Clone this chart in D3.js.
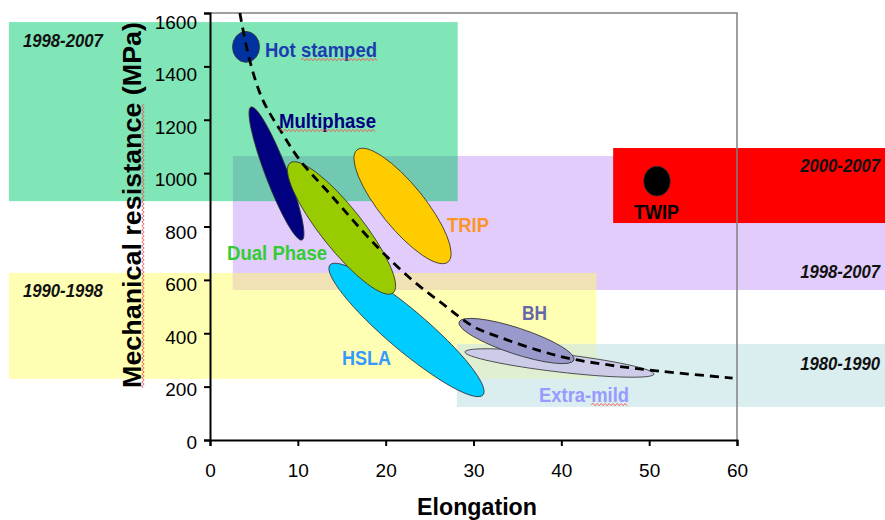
<!DOCTYPE html>
<html><head><meta charset="utf-8">
<script src="https://cdn.jsdelivr.net/npm/d3@7"></script>
<style>
html,body{margin:0;padding:0;background:#fff;}
svg{display:block;font-family:"Liberation Sans",Arial,Helvetica,sans-serif;}
</style></head><body>
<svg id="chart" width="885" height="520"></svg>
<script>
// ================= DATA =================
const xTicks = [0, 10, 20, 30, 40, 50, 60];
const yTicks = [0, 200, 400, 600, 800, 1000, 1200, 1400, 1600];

// period bands (elongation %, MPa)
const bandNames  = ["green", "yellow", "purple", "blue", "red"];
const bandLabels = ["1998-2007", "1990-1998", "1998-2007", "1980-1990", "2000-2007"];
const bandX0 = [-22.9, -22.9, 2.6, 28.1, 45.9];
const bandX1 = [28.2, 44.0, 77, 77, 77];
const bandY0 = [895, 229, 562, 124, 813];
const bandY1 = [1566, 626, 1064, 360, 1094];
// band label anchors (elongation, MPa)
const bandLabelX = [-21.3, -21.3, 76.3, 76.3, 76.3];
const bandLabelY = [1473, 536, 607, 262, 1004];

// steel families: major-axis end points (elongation %, MPa)
const steels  = ["Extra-mild", "BH", "HSLA", "Multiphase", "Dual Phase", "TRIP", "Hot stamped", "TWIP"];
const steelX1 = [29.03, 28.35, 13.66, 4.67, 9.11, 16.74, 4.1, 50.89];
const steelY1 = [330, 442, 656, 1248, 1038, 1087, 1531, 1026];
const steelX2 = [50.55, 41.44, 31.08, 10.47, 20.84, 27.1, 4.1, 50.89];
const steelY2 = [247, 300, 169, 749, 551, 667, 1415, 914];
// steel label anchors (elongation, MPa)
const steelLabelX = [37.46, 35.52, 15.03, 7.86, 1.94, 26.98, 6.26, 48.27];
const steelLabelY = [142, 450, 281, 1169, 674, 779, 1435, 828];

// trend curve (elongation %, MPa)
const trendX = [3.4, 4.5, 6, 8.2, 10.2, 13.7, 19, 23, 26.5, 30, 33, 37.5, 41, 45, 50, 59.5];
const trendY = [1600, 1425, 1275, 1150, 1050, 920, 725, 600, 510, 425, 385, 335, 305, 283, 262, 232];

// ================= STYLE =================
const bandColor = {green: "#80E5B7", yellow: "#FFFFB3", purple: "#E2CCFB", blue: "#DAEEF0", red: "#FF0000"};
const overlapColor = {"green|purple": "#72C9B2", "yellow|purple": "#F0E2B4", "yellow|blue": "#E0EFD2"};
const steelFill = {"Extra-mild": "#CCCCE8", "BH": "#9999CC", "HSLA": "#00CCFF", "Multiphase": "#000080",
  "Dual Phase": "#99CC00", "TRIP": "#FFCC00", "Hot stamped": "#0033A0", "TWIP": "#000000"};
const steelText = {"Extra-mild": "#9999FF", "BH": "#6666AA", "HSLA": "#3399FF", "Multiphase": "#000080",
  "Dual Phase": "#33CC33", "TRIP": "#FA9628", "Hot stamped": "#1C3CB0", "TWIP": "#000000"};
const steelMinor = {"Extra-mild": 9, "BH": 13, "HSLA": 20, "Multiphase": 11, "Dual Phase": 21, "TRIP": 22, "Hot stamped": 13.5, "TWIP": 13.3};
const steelLabelW = {"Extra-mild": 90, "BH": 25, "HSLA": 49, "Multiphase": 97, "Dual Phase": 100, "TRIP": 42, "Hot stamped": 112, "TWIP": 45};
const squiggleChars = {"Hot stamped": [4, 10], "Multiphase": [0, 9], "Extra-mild": [6, 9]};

// ================= CHART =================
const svg = d3.select("#chart");
const x = d3.scaleLinear().domain([0, 60]).range([210, 737]);
const y = d3.scaleLinear().domain([0, 1600]).range([440, 13]);

const bands = bandNames.map((n, i) => ({name: n, label: bandLabels[i], x0: bandX0[i], x1: bandX1[i], y0: bandY0[i], y1: bandY1[i], lx: bandLabelX[i], ly: bandLabelY[i]}));

const gBands = svg.append("g");
function drawRect(b, fill) {
  gBands.append("rect")
    .attr("x", x(b.x0)).attr("y", y(b.y1))
    .attr("width", x(b.x1) - x(b.x0)).attr("height", y(b.y0) - y(b.y1))
    .attr("fill", fill);
}
bands.filter(b => b.name !== "red").forEach(b => drawRect(b, bandColor[b.name]));
// overlaps
Object.keys(overlapColor).forEach(k => {
  const [a, c] = k.split("|").map(n => bands.find(b => b.name === n));
  const o = {x0: Math.max(a.x0, c.x0), x1: Math.min(a.x1, c.x1), y0: Math.max(a.y0, c.y0), y1: Math.min(a.y1, c.y1)};
  if (o.x1 > o.x0 && o.y1 > o.y0) drawRect(o, overlapColor[k]);
});
bands.filter(b => b.name === "red").forEach(b => drawRect(b, bandColor[b.name]));

// band labels
svg.append("g").selectAll("text").data(bands).join("text")
  .attr("x", d => x(d.lx)).attr("y", d => y(d.ly))
  .attr("text-anchor", d => d.lx < 0 ? "start" : "end")
  .attr("font-size", 18).attr("font-weight", "bold").attr("font-style", "italic")
  .attr("textLength", 80).attr("lengthAdjust", "spacingAndGlyphs")
  .attr("fill", "#111")
  .text(d => d.label);

// plot frame (top & right)
svg.append("path")
  .attr("d", `M${x(0)},${y(1600)}H${x(60)}V${y(0)}`)
  .attr("fill", "none").attr("stroke", "#808080").attr("stroke-width", 1.5);

// ellipses
const steelData = steels.map((s, i) => {
  const p1 = [x(steelX1[i]), y(steelY1[i])], p2 = [x(steelX2[i]), y(steelY2[i])];
  return {name: s, cx: (p1[0] + p2[0]) / 2, cy: (p1[1] + p2[1]) / 2,
    a: Math.hypot(p2[0] - p1[0], p2[1] - p1[1]) / 2,
    ang: Math.atan2(p2[1] - p1[1], p2[0] - p1[0]) * 180 / Math.PI,
    lx: steelLabelX[i], ly: steelLabelY[i]};
});
svg.append("g").selectAll("ellipse").data(steelData).join("ellipse")
  .attr("transform", d => `translate(${d.cx},${d.cy}) rotate(${d.ang})`)
  .attr("rx", d => d.a).attr("ry", d => steelMinor[d.name])
  .attr("fill", d => steelFill[d.name])
  .attr("stroke", "#333").attr("stroke-width", 0.8);

// trend curve
const line = d3.line().x(d => x(d[0])).y(d => y(d[1])).curve(d3.curveCatmullRom);
svg.append("path")
  .datum(trendX.map((v, i) => [v, trendY[i]]))
  .attr("d", line)
  .attr("fill", "none").attr("stroke", "#000").attr("stroke-width", 2.8)
  .attr("stroke-dasharray", "9,6");

// squiggle helper (spell-check underline seen in the source image)
function squiggle(g, x0, x1, yb) {
  let d = `M${x0},${yb}`;
  let up = true;
  for (let xx = x0 + 2; xx <= x1; xx += 2) { d += `L${xx},${yb + (up ? -1.2 : 1.2)}`; up = !up; }
  g.append("path").attr("d", d).attr("fill", "none").attr("stroke", "#F44").attr("stroke-width", 0.8);
}

// steel labels
const gLab = svg.append("g");
steelData.forEach(d => {
  const t = gLab.append("text")
    .attr("x", x(d.lx)).attr("y", y(d.ly))
    .attr("font-size", 20).attr("font-weight", "bold")
    .attr("textLength", steelLabelW[d.name]).attr("lengthAdjust", "spacingAndGlyphs")
    .attr("fill", steelText[d.name])
    .text(d.name);
  const sc = squiggleChars[d.name];
  if (sc) {
    const n = t.node();
    const xs = n.getStartPositionOfChar(sc[0]).x, xe = n.getEndPositionOfChar(sc[1]).x;
    squiggle(gLab, xs, xe, y(d.ly) + 2.5);
  }
});

// axes
const gx = svg.append("g").attr("transform", `translate(0,${y(0)})`)
  .call(d3.axisBottom(x).tickValues(xTicks).tickFormat(d3.format("d")).tickSize(6).tickPadding(18));
const gy = svg.append("g").attr("transform", `translate(${x(0)},0)`)
  .call(d3.axisLeft(y).tickValues(yTicks).tickFormat(d3.format("d")).tickSize(6).tickPadding(7));
[gx, gy].forEach(g => {
  g.attr("font-family", null).attr("font-size", null);
  g.select(".domain").attr("stroke", "#000").attr("stroke-width", 2);
  g.selectAll(".tick line").attr("stroke", "#000").attr("stroke-width", 2);
  g.selectAll(".tick text").attr("font-size", 19).attr("fill", "#000");
});
gy.selectAll(".tick text").each(function(d) {
  d3.select(this).attr("dy", null).attr("y", 0.32 * 19 + 2 + 7 * d / 1600);
});

// axis titles
svg.append("text")
  .attr("x", 477).attr("y", 515).attr("text-anchor", "middle")
  .attr("font-size", 24).attr("font-weight", "bold")
  .attr("textLength", 120).attr("lengthAdjust", "spacingAndGlyphs")
  .text("Elongation");
const gyt = svg.append("g").attr("transform", "translate(141,205) rotate(-90)");
const yt = gyt.append("text")
  .attr("x", 0).attr("y", 0).attr("text-anchor", "middle")
  .attr("font-size", 25).attr("font-weight", "bold")
  .attr("textLength", 366).attr("lengthAdjust", "spacingAndGlyphs")
  .text("Mechanical resistance (MPa)");
{
  const n = yt.node();
  squiggle(gyt, n.getStartPositionOfChar(0).x, n.getEndPositionOfChar(20).x, 2);
}
</script>
</body></html>
